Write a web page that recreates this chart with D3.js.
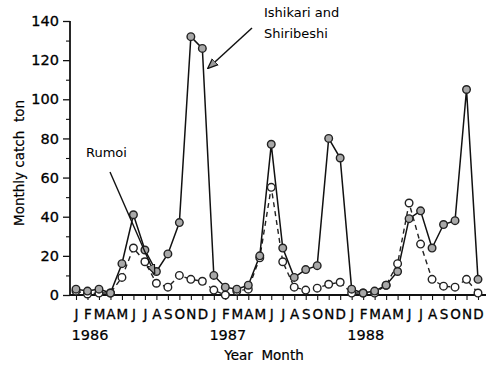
<!DOCTYPE html>
<html>
<head>
<meta charset="utf-8">
<script src="https://cdn.jsdelivr.net/npm/d3@7"></script>
<style>
  body { margin: 0; background: #fff; }
  text { font-family: "DejaVu Sans", sans-serif; fill: #000; }
</style>
</head>
<body>
<svg width="492" height="366"></svg>
<script>
// dati (ton al mese, gen 1986 - dic 1988)
const monthLabels = ["J","F","M","A","M","J","J","A","S","O","N","D"];
const yearLabels = ["1986", "1987", "1988"];
const ishikari = [3, 2, 3, 1, 16, 41, 23, 12, 21, 37, 132, 126,
                  10, 4, 3, 5, 20, 77, 24, 9, 13, 15, 80, 70,
                  3, 1, 2, 5, 12, 39, 43, 24, 36, 38, 105, 8];
const rumoi = [2, 0.5, 1, 1, 9, 24, 17, 6, 4, 10, 8, 7,
               2.5, 0, 2, 3, 19, 55, 17, 4, 2.5, 3.5, 5.5, 6.5,
               1, 1, 1, 5, 16, 47, 26, 8, 4.5, 4, 8, 1];
const yTicks = [0, 20, 40, 60, 80, 100, 120, 140];
const yMinor = [10, 30, 50, 70, 90, 110, 130];

const svg = d3.select("svg");

const x = d3.scaleLinear().domain([0, 35]).range([76, 478]);
const y = d3.scaleLinear().domain([0, 140]).range([295, 21]);

// asse y
const yAxis = svg.append("g").attr("transform", "translate(70,0)")
  .call(d3.axisLeft(y).tickValues(yTicks).tickSize(7).tickSizeOuter(0).tickPadding(4));
yAxis.select(".domain").remove();
yAxis.selectAll("text").attr("font-size", 14.5).style("font-family", "DejaVu Sans")
  .attr("fill", "#000").attr("stroke", "#000").attr("stroke-width", 0.3);
yAxis.selectAll("line").attr("stroke", "#111").attr("stroke-width", 1.3);

svg.append("g").attr("transform", "translate(70,0)")
  .call(d3.axisLeft(y).tickValues(yMinor).tickSize(4).tickFormat(""))
  .call(g => g.select(".domain").remove())
  .selectAll("line").attr("stroke", "#111").attr("stroke-width", 1.1);

svg.append("line")
  .attr("x1", 70).attr("x2", 70).attr("y1", y(140)).attr("y2", y(0))
  .attr("stroke", "#111").attr("stroke-width", 1.8);

// asse x (mesi)
const xAxis = svg.append("g").attr("transform", `translate(0,${y(0)})`)
  .call(d3.axisBottom(x).tickValues(d3.range(36)).tickSize(5).tickPadding(9)
    .tickFormat(i => monthLabels[i % 12]));
xAxis.select(".domain").remove();
xAxis.selectAll("text").attr("font-size", 13.5).style("font-family", "DejaVu Sans")
  .attr("fill", "#000").attr("stroke", "#000").attr("stroke-width", 0.3);
xAxis.selectAll("line").attr("stroke", "#111").attr("stroke-width", 1.1);

svg.append("line")
  .attr("x1", 70).attr("x2", 486).attr("y1", y(0)).attr("y2", y(0))
  .attr("stroke", "#111").attr("stroke-width", 2);

// anni
svg.selectAll(".year")
  .data(yearLabels)
  .join("text")
  .attr("class", "year")
  .attr("x", (d, i) => x(i * 12) + 14)
  .attr("y", 340)
  .attr("text-anchor", "middle")
  .attr("font-size", 14.5)
  .attr("stroke", "#000").attr("stroke-width", 0.2)
  .text(d => d);

// titoli assi
svg.append("text")
  .attr("x", 264).attr("y", 360)
  .attr("text-anchor", "middle")
  .attr("font-size", 13.5)
  .attr("stroke", "#000").attr("stroke-width", 0.2)
  .attr("xml:space", "preserve")
  .text("Year  Month");

svg.append("text")
  .attr("transform", "translate(24,163) rotate(-90)")
  .attr("text-anchor", "middle")
  .attr("font-size", 13.5)
  .attr("stroke", "#000").attr("stroke-width", 0.2)
  .attr("xml:space", "preserve")
  .text("Monthly catch  ton");

// linee
const line = d3.line().x((d, i) => x(i)).y(d => y(d));

svg.append("path")
  .datum(rumoi)
  .attr("d", line)
  .attr("fill", "none")
  .attr("stroke", "#222")
  .attr("stroke-width", 1.4)
  .attr("stroke-dasharray", "5,4");

svg.append("path")
  .datum(ishikari)
  .attr("d", line)
  .attr("fill", "none")
  .attr("stroke", "#111")
  .attr("stroke-width", 1.5);

// punti Rumoi (cerchi aperti)
svg.selectAll(".pt-rumoi")
  .data(rumoi)
  .join("circle")
  .attr("class", "pt-rumoi")
  .attr("cx", (d, i) => x(i))
  .attr("cy", d => y(d))
  .attr("r", 3.8)
  .attr("fill", "#fff")
  .attr("stroke", "#222")
  .attr("stroke-width", 1.4);

// punti Ishikari (cerchi grigi)
svg.selectAll(".pt-ishikari")
  .data(ishikari)
  .join("circle")
  .attr("class", "pt-ishikari")
  .attr("cx", (d, i) => x(i))
  .attr("cy", d => y(d))
  .attr("r", 3.8)
  .attr("fill", "#a8a8a8")
  .attr("stroke", "#222")
  .attr("stroke-width", 1.4);

// annotazioni
svg.append("defs").append("marker")
  .attr("id", "arrow")
  .attr("viewBox", "0 0 10 10")
  .attr("refX", 9).attr("refY", 5)
  .attr("markerWidth", 7).attr("markerHeight", 7)
  .attr("orient", "auto")
  .append("path")
  .attr("d", "M0,1 L10,5 L0,9 Z")
  .attr("fill", "#999")
  .attr("stroke", "#111")
  .attr("stroke-width", 1.2);

svg.append("line")
  .attr("x1", 252).attr("y1", 28)
  .attr("x2", x(11) + 6).attr("y2", y(116))
  .attr("stroke", "#111").attr("stroke-width", 1.5)
  .attr("marker-end", "url(#arrow)");

svg.append("text").attr("x", 264).attr("y", 17).attr("font-size", 13).text("Ishikari and");
svg.append("text").attr("x", 264).attr("y", 38).attr("font-size", 13).text("Shiribeshi");

svg.append("line")
  .attr("x1", 110).attr("y1", 172)
  .attr("x2", x(7) - 2).attr("y2", y(11))
  .attr("stroke", "#111").attr("stroke-width", 1.4)
  .attr("marker-end", "url(#arrow)");

svg.append("text").attr("x", 86).attr("y", 157).attr("font-size", 13).text("Rumoi");
</script>
</body>
</html>
